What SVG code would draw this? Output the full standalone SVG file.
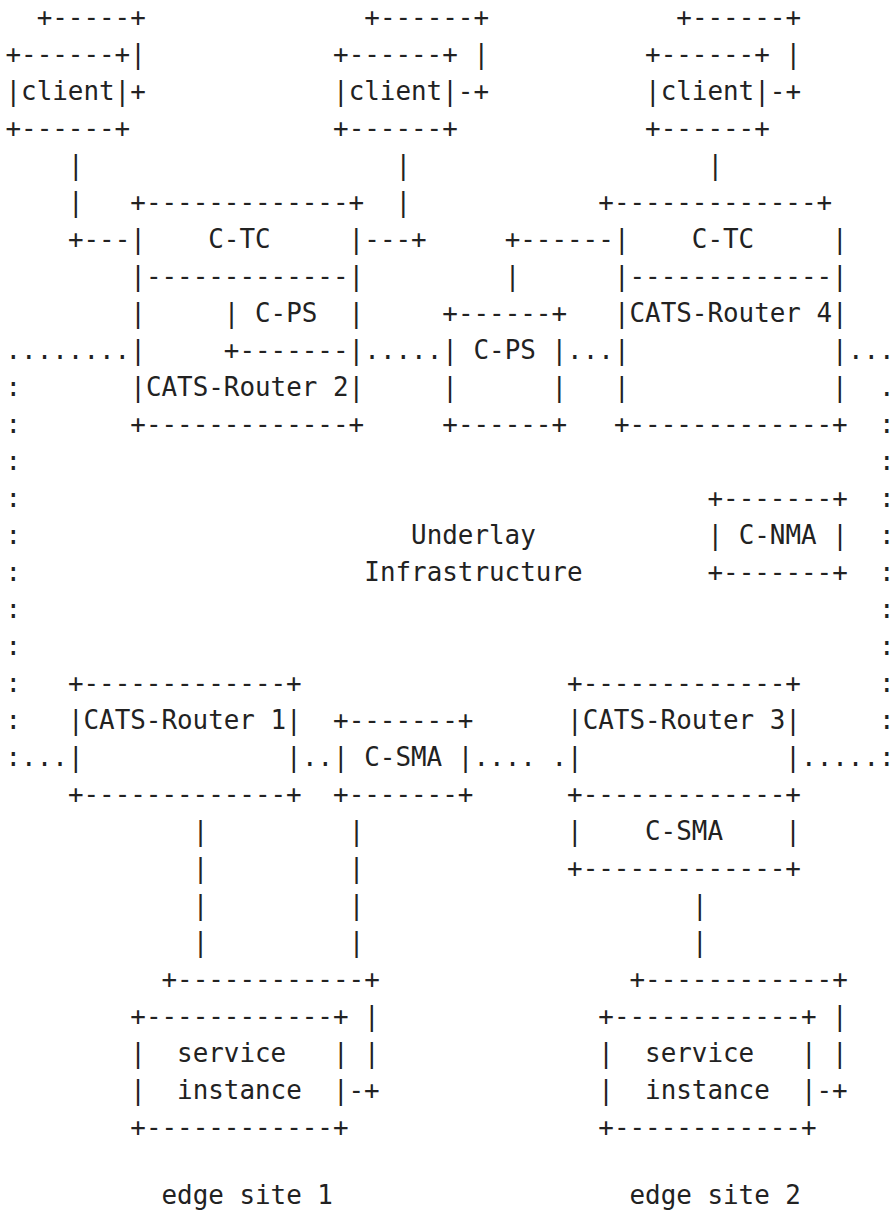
<svg xmlns="http://www.w3.org/2000/svg" width="890" height="1211" viewBox="0 0 890 1211" xml:space="preserve">
  <style>
    text { font-family: "DejaVu Sans Mono", "Liberation Mono", monospace; font-size: 25.9px; fill: #222; white-space: pre; }
  </style>
  <!-- character grid: column c at x = 5.5 + 15.6*c, row r at baseline y = 26 + 37*r -->
  <rect x="0" y="0" width="890" height="1211" fill="#ffffff"/>

  <g id="client-1">
    <text x="36.7" y="26">+-----+</text>
    <text x="5.5" y="63">+------+|</text>
    <text x="5.5" y="100">|client|+</text>
    <text x="5.5" y="137">+------+</text>
  </g>

  <g id="client-2">
    <text x="364.3" y="26">+------+</text>
    <text x="333.1" y="63">+------+ |</text>
    <text x="333.1" y="100">|client|-+</text>
    <text x="333.1" y="137">+------+</text>
  </g>

  <g id="client-3">
    <text x="676.3" y="26">+------+</text>
    <text x="645.1" y="63">+------+ |</text>
    <text x="645.1" y="100">|client|-+</text>
    <text x="645.1" y="137">+------+</text>
  </g>

  <g id="cats-router-2">
    <text x="130.3" y="211">+-------------+</text>
    <text x="130.3" y="248">|    C-TC     |</text>
    <text x="130.3" y="285">|-------------|</text>
    <text x="130.3" y="322">|     | C-PS  |</text>
    <text x="130.3" y="359">|     +-------|</text>
    <text x="130.3" y="396">|CATS-Router 2|</text>
    <text x="130.3" y="433">+-------------+</text>
  </g>

  <g id="c-ps">
    <text x="442.3" y="322">+------+</text>
    <text x="442.3" y="359">| C-PS |</text>
    <text x="442.3" y="396">|      |</text>
    <text x="442.3" y="433">+------+</text>
  </g>

  <g id="cats-router-4">
    <text x="598.3" y="211">+-------------+</text>
    <text x="613.9" y="248">|    C-TC     |</text>
    <text x="613.9" y="285">|-------------|</text>
    <text x="613.9" y="322">|CATS-Router 4|</text>
    <text x="613.9" y="359">|             |</text>
    <text x="613.9" y="396">|             |</text>
    <text x="613.9" y="433">+-------------+</text>
  </g>

  <g id="underlay">
    <text x="411.1" y="544">Underlay</text>
    <text x="364.3" y="581">Infrastructure</text>
  </g>

  <g id="c-nma">
    <text x="707.5" y="507">+-------+</text>
    <text x="707.5" y="544">| C-NMA |</text>
    <text x="707.5" y="581">+-------+</text>
  </g>

  <g id="cats-router-1">
    <text x="67.9" y="692">+-------------+</text>
    <text x="67.9" y="729">|CATS-Router 1|</text>
    <text x="67.9" y="766">|             |</text>
    <text x="67.9" y="803">+-------------+</text>
  </g>

  <g id="c-sma-1">
    <text x="333.1" y="729">+-------+</text>
    <text x="333.1" y="766">| C-SMA |</text>
    <text x="333.1" y="803">+-------+</text>
  </g>

  <g id="cats-router-3">
    <text x="567.1" y="692">+-------------+</text>
    <text x="567.1" y="729">|CATS-Router 3|</text>
    <text x="567.1" y="766">|             |</text>
    <text x="567.1" y="803">+-------------+</text>
    <text x="567.1" y="840">|    C-SMA    |</text>
    <text x="567.1" y="877">+-------------+</text>
  </g>

  <g id="service-instance-1">
    <text x="161.5" y="988">+------------+</text>
    <text x="130.3" y="1025">+------------+ |</text>
    <text x="130.3" y="1062">|  service   | |</text>
    <text x="130.3" y="1099">|  instance  |-+</text>
    <text x="130.3" y="1136">+------------+</text>
    <text x="161.5" y="1204">edge site 1</text>
  </g>

  <g id="service-instance-2">
    <text x="629.5" y="988">+------------+</text>
    <text x="598.3" y="1025">+------------+ |</text>
    <text x="598.3" y="1062">|  service   | |</text>
    <text x="598.3" y="1099">|  instance  |-+</text>
    <text x="598.3" y="1136">+------------+</text>
    <text x="629.5" y="1204">edge site 2</text>
  </g>

  <g id="connectors">
    <!-- client uplinks -->
    <text x="67.9" y="174">|</text>
    <text x="67.9" y="211">|</text>
    <text x="67.9" y="248">+---</text>
    <text x="395.5" y="174">|</text>
    <text x="395.5" y="211">|</text>
    <text x="364.3" y="248">---+</text>
    <text x="707.5" y="174">|</text>
    <!-- router 4 to C-PS -->
    <text x="504.7" y="248">+------</text>
    <text x="504.7" y="285">|</text>
    <!-- dotted underlay ring, top -->
    <text x="5.5" y="359">........</text>
    <text x="364.3" y="359">.....</text>
    <text x="567.1" y="359">...</text>
    <text x="847.9" y="359">...</text>
    <!-- left side -->
    <text x="5.5" y="396">:</text>
    <text x="5.5" y="433">:</text>
    <text x="5.5" y="470">:</text>
    <text x="5.5" y="507">:</text>
    <text x="5.5" y="544">:</text>
    <text x="5.5" y="581">:</text>
    <text x="5.5" y="618">:</text>
    <text x="5.5" y="655">:</text>
    <text x="5.5" y="692">:</text>
    <text x="5.5" y="729">:</text>
    <text x="5.5" y="766">:...</text>
    <!-- right side -->
    <text x="879.1" y="396">.</text>
    <text x="879.1" y="433">:</text>
    <text x="879.1" y="470">:</text>
    <text x="879.1" y="507">:</text>
    <text x="879.1" y="544">:</text>
    <text x="879.1" y="581">:</text>
    <text x="879.1" y="618">:</text>
    <text x="879.1" y="655">:</text>
    <text x="879.1" y="692">:</text>
    <text x="879.1" y="729">:</text>
    <text x="801.1" y="766">.....:</text>
    <!-- dotted underlay ring, bottom -->
    <text x="301.9" y="766">..</text>
    <text x="473.5" y="766">.... .</text>
    <!-- downlinks to edge sites -->
    <text x="192.7" y="840">|</text>
    <text x="192.7" y="877">|</text>
    <text x="192.7" y="914">|</text>
    <text x="192.7" y="951">|</text>
    <text x="348.7" y="840">|</text>
    <text x="348.7" y="877">|</text>
    <text x="348.7" y="914">|</text>
    <text x="348.7" y="951">|</text>
    <text x="691.9" y="914">|</text>
    <text x="691.9" y="951">|</text>
  </g>
</svg>
